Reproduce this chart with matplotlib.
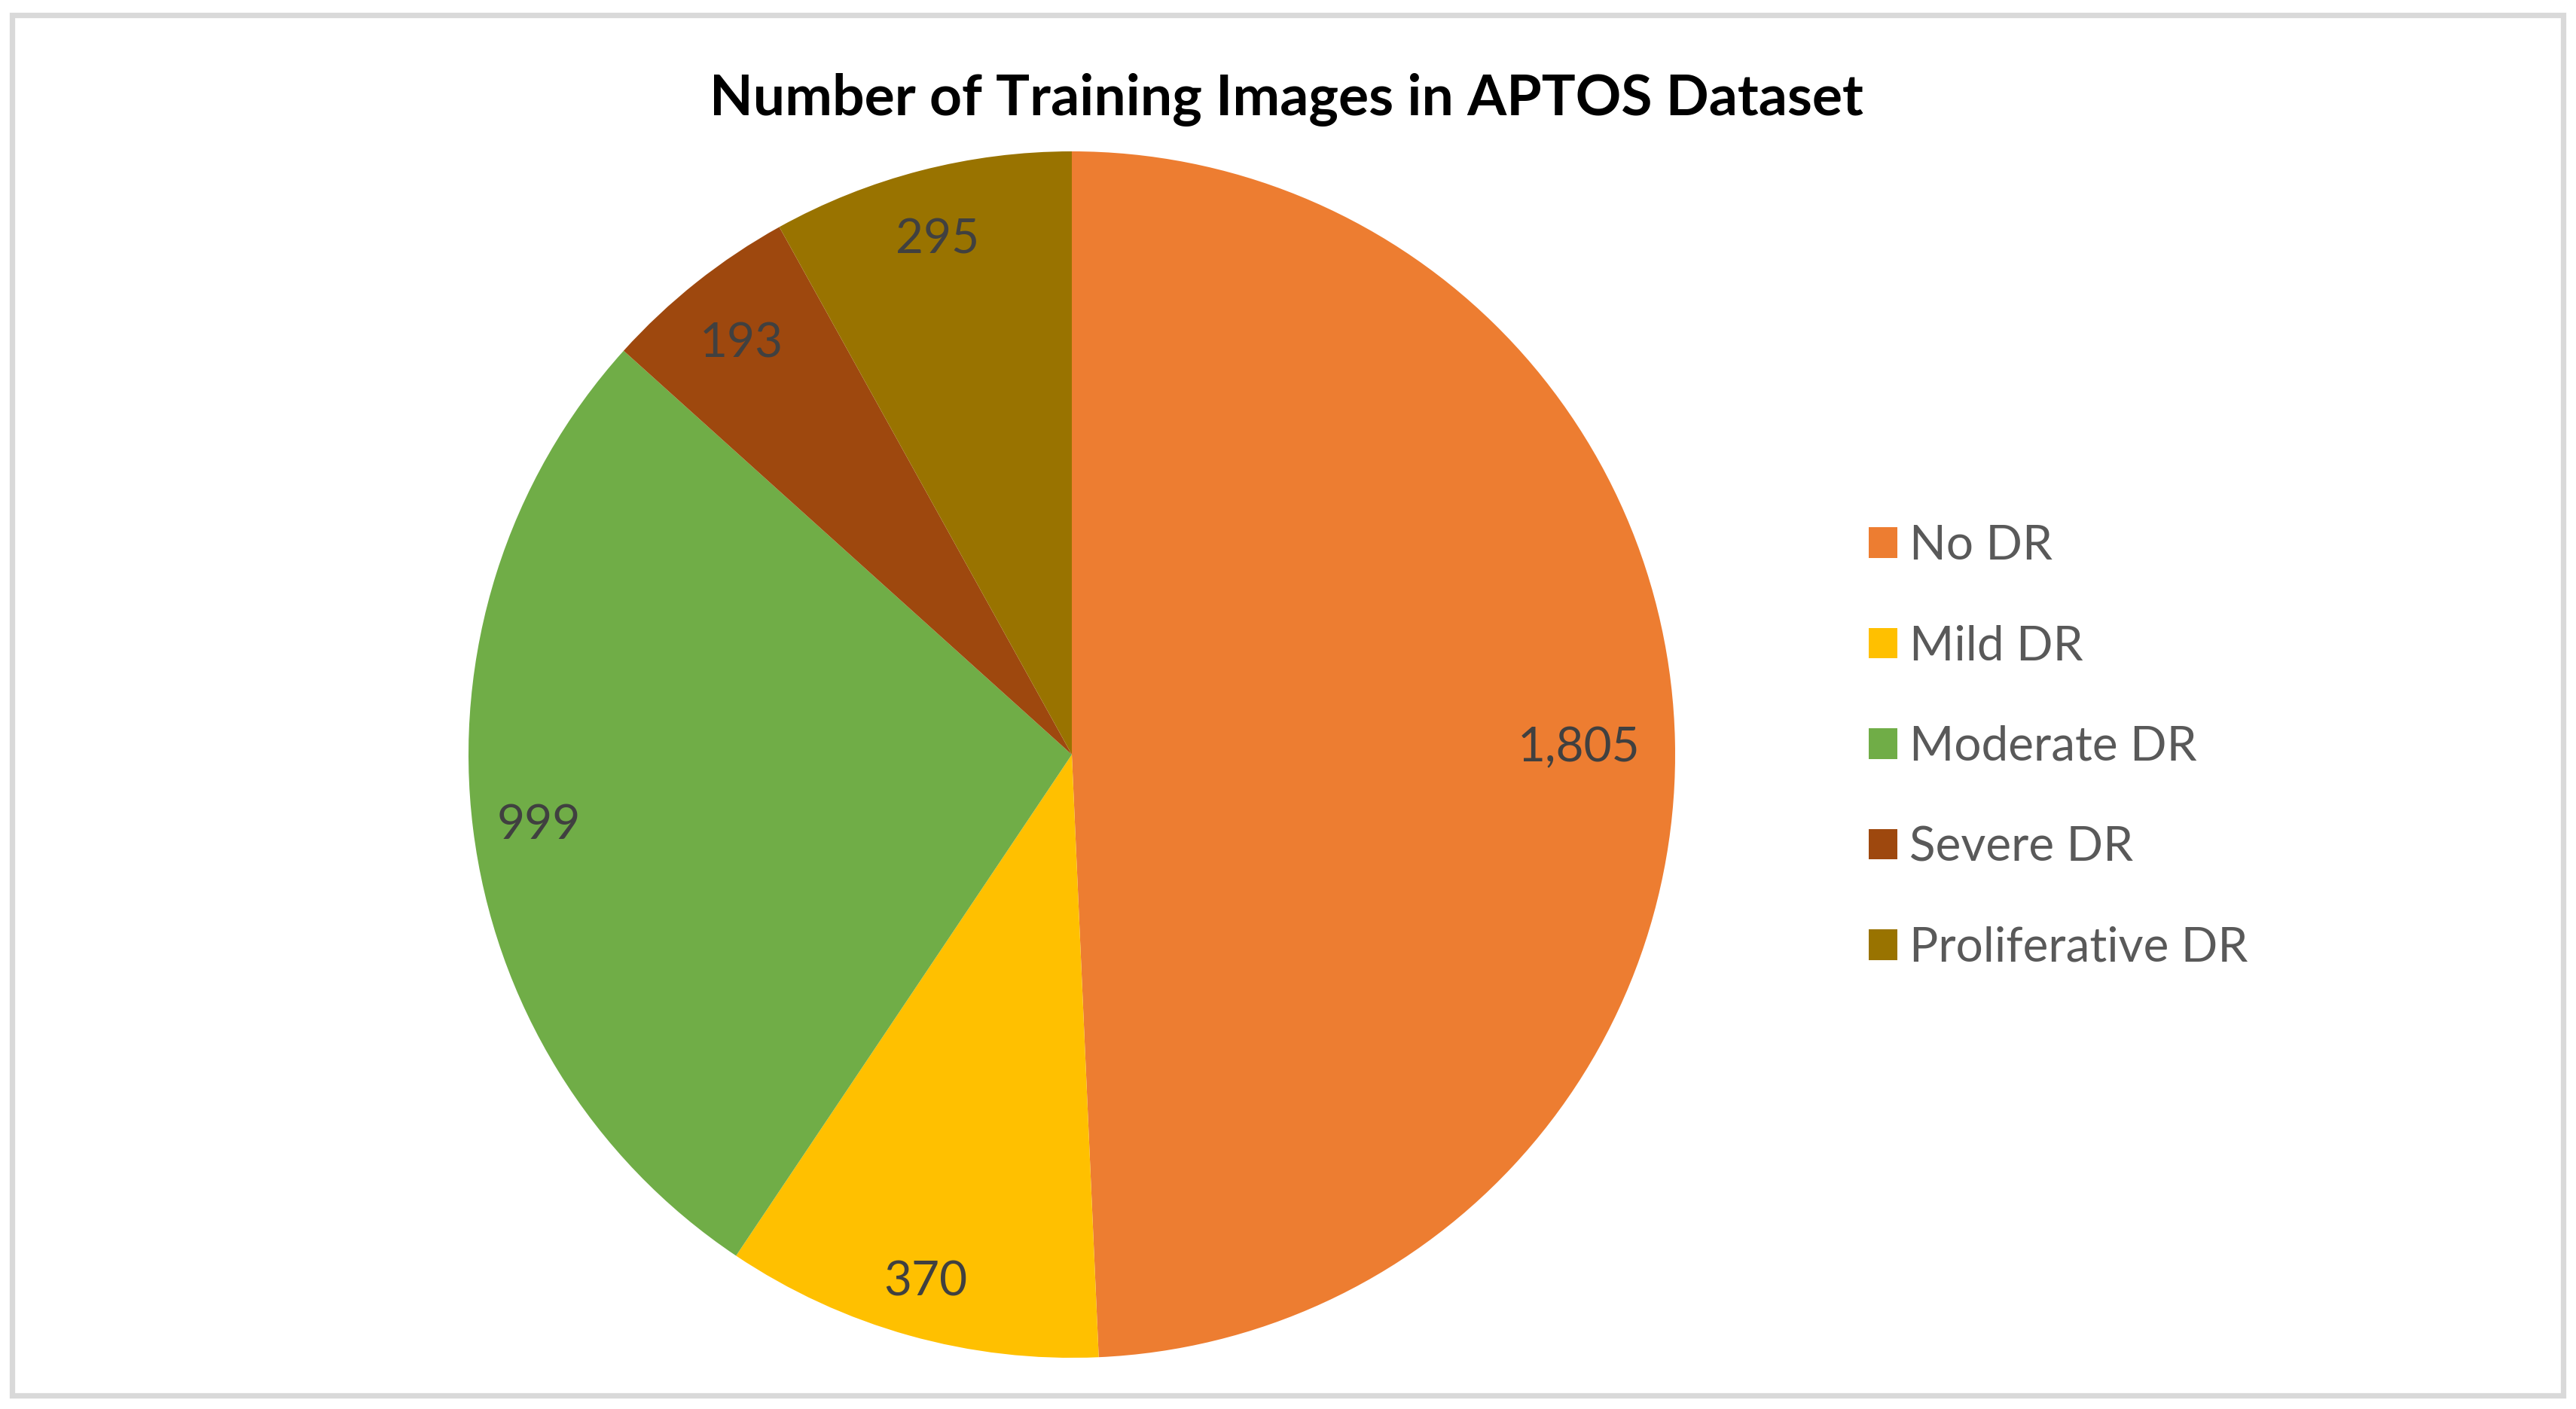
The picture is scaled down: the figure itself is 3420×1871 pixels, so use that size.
import numpy as np
import matplotlib.pyplot as plt
from matplotlib.patches import Rectangle

# Данные
categories = ['No DR', 'Mild DR', 'Moderate DR', 'Severe DR', 'Proliferative DR']
counts = [1805, 370, 999, 193, 295]
colors = ['#ED7D31', '#FFC000', '#70AD47', '#9E480E', '#997300']
title = 'Number of Training Images in APTOS Dataset'

# Расстояние подписей от центра (доля радиуса)
label_dist = [0.84, 0.90, 0.89, 0.88, 0.89]

W, H = 3420, 1871

plt.rcParams['font.family'] = ['Lato', 'DejaVu Sans']

fig = plt.figure(figsize=(W / 100, H / 100), dpi=100)

# Рамка вокруг диаграммы
fig.patches.append(Rectangle((16 / W, 18 / H), (3403 - 16) / W, (1851 - 18) / H,
                             transform=fig.transFigure, fill=False,
                             edgecolor='#D9D9D9', linewidth=5.2))

# Круговая диаграмма: центр (1423, 1002), радиус 801 пикс.
cx, cy, r = 1423, 1002, 801
ax = fig.add_axes([(cx - r) / W, (H - cy - r) / H, 2 * r / W, 2 * r / H])
wedges, texts = ax.pie(counts, colors=colors, startangle=90, counterclock=False)
ax.set_xlim(-1, 1)
ax.set_ylim(-1, 1)
ax.set_aspect('equal')

# Подписи значений
for w, n, d in zip(wedges, counts, label_dist):
    ang = np.deg2rad((w.theta1 + w.theta2) / 2)
    ax.text(d * np.cos(ang), d * np.sin(ang) - 0.008, f'{n:,}', ha='center',
            va='center', fontsize=46, color='#404040')

fig.text(1708 / W, 1 - 133 / H, title, ha='center', va='center',
         fontsize=54, fontweight='bold', color='black')

fig.legend(wedges, categories, loc='center left',
           bbox_to_anchor=(2423 / W, 1 - 992 / H), frameon=False,
           fontsize=46, labelcolor='#595959', handlelength=0.6,
           handleheight=0.6, handletextpad=0.25, labelspacing=1.18)

fig.savefig('out.png', dpi=100)
